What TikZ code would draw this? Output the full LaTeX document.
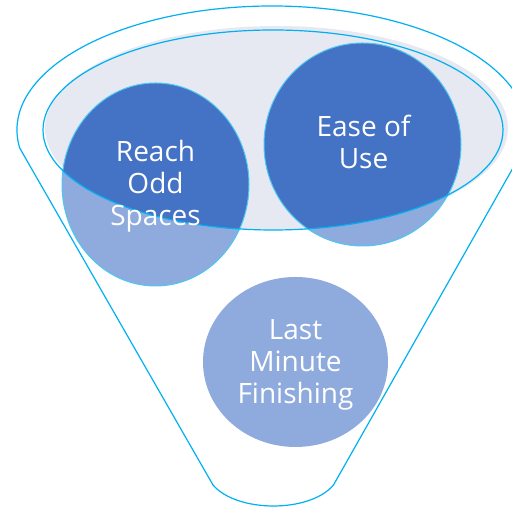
\documentclass[tikz,border=0pt]{standalone}
\usepackage{fontspec}
\setmainfont{Open Sans}
\definecolor{darkblue}{HTML}{4472C4}
\definecolor{lightblue}{HTML}{8FAADC}
\definecolor{cyanline}{HTML}{00B0F0}
\definecolor{softgray}{HTML}{E6E9F2}
\tikzset{
  outline/.style={draw=cyanline, line width=1.2pt},
  bubbletext/.style={text=white, align=center, inner sep=0pt, font=\fontsize{28}{32}\selectfont},
  rim/.style={draw=cyanline!70, line width=1pt}
}
\begin{document}
\begin{tikzpicture}[x=1pt,y=1pt]
\useasboundingbox (0,0) rectangle (512,508);
\begin{scope}
\clip (0,0) rectangle (512,508);
% funnel outline
\coordinate (fl) at (19.7,360);
\coordinate (fr) at (524.3,360);
\coordinate (bl) at (213,23);
\coordinate (br) at (333.5,23);
\draw[outline] (fl) arc[start angle=188.35, end angle=-8.35, x radius=255, y radius=124]
  -- (br) .. controls (310,-5) and (237,-5) .. (bl) -- cycle;
% gray top ellipse
\fill[softgray] (276.5,380) ellipse[x radius=231.5, y radius=102];
% circles, light parts
\fill[lightblue] (155.5,323.5) ellipse[x radius=93.5, y radius=101.5];
\fill[lightblue] (362.5,363.5) ellipse[x radius=98.5, y radius=101.5];
\fill[lightblue] (295.5,146) ellipse[x radius=92.5, y radius=85];
% dark parts within the ellipse
\begin{scope}
\clip (273,378) ellipse[x radius=230, y radius=100];
\fill[darkblue] (155.5,323.5) ellipse[x radius=93.5, y radius=101.5];
\fill[darkblue] (362.5,363.5) ellipse[x radius=98.5, y radius=101.5];
\end{scope}
\draw[rim] (155.5,323.5) ellipse[x radius=93.5, y radius=101.5];
\draw[rim] (362.5,363.5) ellipse[x radius=98.5, y radius=101.5];
% inner ellipse outline
\draw[outline] (273,378) ellipse[x radius=230, y radius=100];
\end{scope}
% texts
\node[bubbletext] (reach) at (155.5,321.3) {Reach\\Odd\\Spaces};
\node[bubbletext] (ease) at (363.5,365.6) {Ease of\\Use};
\node[bubbletext] (last) at (295.5,143.6) {Last\\Minute\\Finishing};
\end{tikzpicture}
\end{document}
